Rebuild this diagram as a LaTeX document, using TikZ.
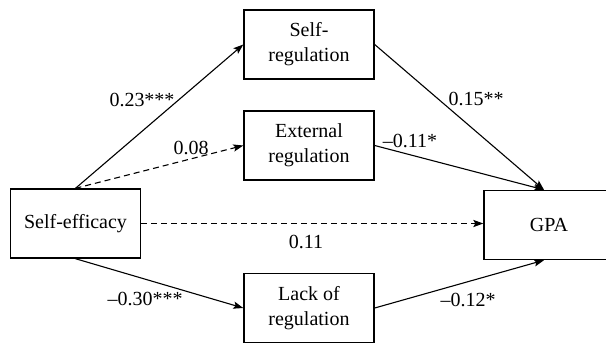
\documentclass[tikz,border=0pt]{standalone}
\usepackage{fontspec}
\setmainfont{Liberation Serif}
\newfontfamily\diagfont{Liberation Serif}
\usetikzlibrary{arrows.meta,positioning}
\tikzset{var node/.style={rectangle,draw,line width=0.7pt,minimum width=65pt,minimum height=34.5pt,inner sep=1pt,align=center,font=\diagfont\fontsize{10}{12.5}\selectfont},
         coef label/.style={draw=none,fill=none,inner sep=0pt,font=\diagfont\fontsize{10}{12}\selectfont}
}

\begin{document}
\begin{tikzpicture}[->,>={Stealth[length=5pt,width=3.6pt,inset=1pt]}, x=0.5pt, y=-0.5pt, line width=0.55pt]

    \useasboundingbox (0,0) rectangle (606,344);

    % variables
    \node[var node] (eff)  at (75.5,223.5) {Self-efficacy};
    \node[var node] (sreg) at (309,44.5)   {Self-\\regulation};
    \node[var node] (ereg) at (309,145.5)  {External\\regulation};
    \node[var node] (lreg) at (309,308)    {Lack of\\regulation};
    \node[var node] (gpa)  at (549,225)    {GPA};

    % paths
    \draw (eff.north) -- (sreg.west);
    \draw[dash pattern=on 3pt off 2pt] (eff.north) -- (ereg.west);
    \draw[dash pattern=on 3pt off 2pt] (eff.east) -- (eff.east -| gpa.west);
    \draw (eff.south) -- (lreg.west);
    \draw (sreg.east) -- ([xshift=-2.5pt]gpa.north);
    \draw (ereg.east) -- ([xshift=-2.5pt]gpa.north);
    \draw (lreg.east) -- ([xshift=-2.5pt]gpa.south);

    % coefficients
    \node[coef label] (ca) at (142,100)  {0.23***};
    \node[coef label] (cb) at (191,148)  {0.08};
    \node[coef label] (cc) at (476,99)   {0.15**};
    \node[coef label] (cd) at (410,141)  {–0.11*};
    \node[coef label] (ce) at (306,242)  {0.11};
    \node[coef label] (cf) at (145,299)  {–0.30***};
    \node[coef label] (cg) at (468,300)  {–0.12*};

\end{tikzpicture}
\end{document}
